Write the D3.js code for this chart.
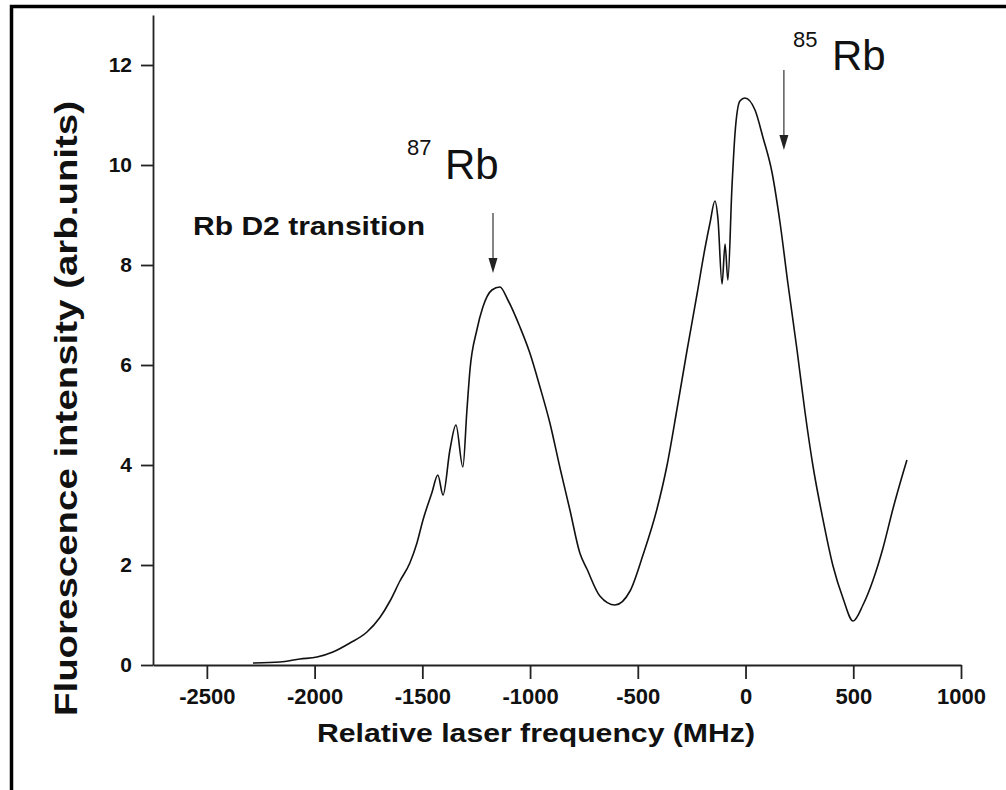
<!DOCTYPE html>
<html>
<head>
<meta charset="utf-8">
<script src="https://cdn.jsdelivr.net/npm/d3@7"></script>
<style>
  body { margin: 0; background: #fff; }
  text { font-family: "Liberation Sans", Arial, sans-serif; fill: #111; }
</style>
</head>
<body>
<div id="chart"></div>
<script>
// frequency (MHz) and fluorescence (arb. units)
var freq = [-2286, -2161, -2068, -1989, -1915, -1836, -1757, -1697, -1650, -1604,
  -1558, -1525, -1497, -1456, -1428, -1404, -1372, -1344, -1312, -1293,
  -1279, -1247, -1219, -1177, -1140, -1103, -1047, -1001, -954, -908,
  -861, -815, -769, -736, -676, -606, -536, -476, -411, -365,
  -318, -272, -225, -188, -165, -142, -128, -109, -95, -82,
  -63, -49, -26, -3, 44, 81, 123, 160, 197, 239,
  276, 313, 359, 406, 452, 499, 545, 592, 638, 684, 731, 749];
var fluo = [0.04, 0.06, 0.12, 0.16, 0.26, 0.44, 0.66, 0.95, 1.28, 1.68,
  2.04, 2.44, 2.90, 3.44, 3.80, 3.40, 4.30, 4.80, 3.96, 5.10,
  5.90, 6.70, 7.16, 7.50, 7.56, 7.30, 6.76, 6.24, 5.56, 4.84,
  3.94, 3.10, 2.24, 1.92, 1.38, 1.20, 1.48, 2.20, 3.12, 3.98,
  5.12, 6.28, 7.42, 8.34, 8.84, 9.28, 8.92, 7.62, 8.42, 7.70,
  9.56, 10.62, 11.28, 11.34, 11.10, 10.55, 9.85, 8.85, 7.62, 6.30,
  5.06, 3.98, 2.92, 1.98, 1.34, 0.88, 1.20, 1.70, 2.34, 3.12, 3.84, 4.10];

var xTicks = [-2500, -2000, -1500, -1000, -500, 0, 500, 1000];
var yTicks = [0, 2, 4, 6, 8, 10, 12];

// isotope labels: arrow x, arrow top, arrow tip
var isoNames = ["87", "85"];
var isoArrowX = [-1172, 178];
var isoArrowTop = [9.04, 11.9];
var isoArrowTip = [7.84, 10.3];

var W = 1006, H = 790;
var svg = d3.select("#chart").append("svg")
  .attr("width", W).attr("height", H);

// outer frame
svg.append("rect")
  .attr("x", 11.5).attr("y", 6.5)
  .attr("width", 1010).attr("height", 800)
  .attr("fill", "none").attr("stroke", "#000").attr("stroke-width", 3.5);

var x = d3.scaleLinear().domain([-2750, 1000]).range([153, 961]);
var y = d3.scaleLinear().domain([0, 13]).range([665, 15]);

var plain = function(d) { return String(d); };

// axes: minor ticks first, then major with labels
var gx = svg.append("g").attr("transform", "translate(0,665)");
gx.call(d3.axisBottom(x).tickValues(d3.range(-2750, 1001, 250)).tickSize(7).tickFormat(""));
gx.call(d3.axisBottom(x).tickValues(xTicks).tickSize(14).tickSizeOuter(0).tickPadding(9).tickFormat(plain));

var gy = svg.append("g").attr("transform", "translate(153,0)");
gy.call(d3.axisLeft(y).tickValues(d3.range(0, 14, 1)).tickSize(7).tickFormat(""));
gy.call(d3.axisLeft(y).tickValues(yTicks).tickSize(12).tickSizeOuter(0).tickPadding(9).tickFormat(plain));

svg.selectAll(".domain").attr("stroke", "#222").attr("stroke-width", 1.8);
svg.selectAll(".tick line").attr("stroke", "#222").attr("stroke-width", 1.8);
gx.selectAll(".tick text").attr("font-size", 22).attr("font-weight", "bold").attr("fill", "#111");
gy.selectAll(".tick text").attr("font-size", 21).attr("font-weight", "bold").attr("fill", "#111");

// axis titles
svg.append("text")
  .attr("x", 317).attr("y", 742)
  .attr("font-size", 26).attr("font-weight", "bold")
  .attr("textLength", 438).attr("lengthAdjust", "spacingAndGlyphs")
  .text("Relative laser frequency (MHz)");

svg.append("text")
  .attr("transform", "translate(77,716) rotate(-90)")
  .attr("font-size", 31).attr("font-weight", "bold")
  .attr("textLength", 615).attr("lengthAdjust", "spacingAndGlyphs")
  .text("Fluorescence intensity (arb.units)");

// spectrum
var line = d3.line()
  .x(function(d, i) { return x(freq[i]); })
  .y(function(d) { return y(d); })
  .curve(d3.curveMonotoneX);

svg.append("path")
  .datum(fluo)
  .attr("d", line)
  .attr("fill", "none")
  .attr("stroke", "#111")
  .attr("stroke-width", 1.6)
  .attr("stroke-linejoin", "round");

// annotations
svg.append("text")
  .attr("x", 193).attr("y", 235)
  .attr("font-size", 25).attr("font-weight", "bold")
  .attr("textLength", 232).attr("lengthAdjust", "spacingAndGlyphs")
  .text("Rb D2 transition");

var labelPos = [[407, 155, 445, 179], [793, 47, 832, 70]];
isoNames.forEach(function(n, i) {
  svg.append("text").attr("x", labelPos[i][0]).attr("y", labelPos[i][1])
    .attr("font-size", 22).text(n);
  svg.append("text").attr("x", labelPos[i][2]).attr("y", labelPos[i][3])
    .attr("font-size", 42).text("Rb");

  var ax = x(isoArrowX[i]), top = y(isoArrowTop[i]), tip = y(isoArrowTip[i]);
  svg.append("line")
    .attr("x1", ax).attr("x2", ax).attr("y1", top).attr("y2", tip - 12)
    .attr("stroke", "#333").attr("stroke-width", 1.2);
  svg.append("path")
    .attr("d", "M" + (ax - 4.5) + "," + (tip - 15) + "L" + (ax + 4.5) + "," + (tip - 15) + "L" + ax + "," + tip + "Z")
    .attr("fill", "#222");
});
</script>
</body>
</html>
